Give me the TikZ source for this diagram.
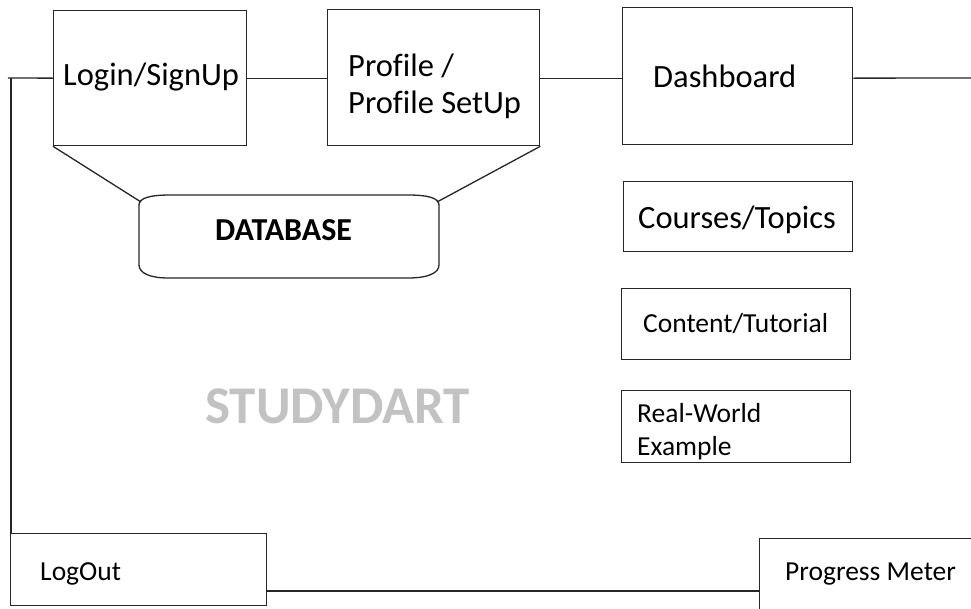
\documentclass[tikz,border=0pt]{standalone}
\usepackage{fontspec}
\setmainfont[Ligatures=NoCommon]{Carlito}
\begin{document}
\begin{tikzpicture}[x=1pt,y=-1pt,
  box/.style={draw=black!85,line width=1.3pt,anchor=north west,inner sep=0pt},
  ln/.style={draw=black!85,line width=1.3pt},
  big/.style={anchor=base west,inner sep=0pt,font=\fontsize{32.5}{37}\selectfont},
  small/.style={anchor=base west,inner sep=0pt,font=\fontsize{27.5}{33}\selectfont,align=left}]
\useasboundingbox (0,0) rectangle (971,608);
\clip (0,0) rectangle (971,608);
\fill[white] (0,0) rectangle (971,608);
% boxes
\node[box,minimum width=193pt,minimum height=135pt] (login) at (53,10) {};
\node[box,minimum width=212pt,minimum height=136pt] (profile) at (327,9) {};
\node[box,minimum width=230pt,minimum height=137pt] (dash) at (622,7) {};
\node[box,minimum width=229pt,minimum height=70pt] (courses) at (623,181) {};
\node[box,minimum width=229pt,minimum height=71pt] (content) at (621,288) {};
\node[box,minimum width=229pt,minimum height=72pt] (real) at (621,390) {};
\node[box,minimum width=256pt,minimum height=72pt] (logout) at (10,533) {};
\node[box,minimum width=240pt,minimum height=90pt] (progress) at (759,538) {};
% database shape
\draw[ln] (139,205) .. controls (139,198) and (150,195) .. (170,195) -- (408,195)
  .. controls (428,195) and (439,198) .. (439,205) -- (439,265)
  .. controls (439,273) and (428,278) .. (408,278) -- (168,278)
  .. controls (150,278) and (139,273) .. (139,265) -- cycle;
\coordinate (dbtl) at (141,202);
\coordinate (dbtr) at (437,202);
% texts
\node[big] (tlogin) at (63,85) {Login/SignUp};
\node[big] (tprofile1) at (348,76) {Profile /};
\node[big] (tprofile2) at (348,113) {Profile SetUp};
\node[big] (tdash) at (653,87) {Dashboard};
\node[big] (tcourses) at (638,228) {Courses/Topics};
\node[small] (tcontent) at (643,332) {Content/Tutorial};
\node[small] (treal1) at (637,422) {Real-World};
\node[small] (treal2) at (637,455) {Example};
\node[small] (tlogout) at (40,580) {LogOut};
\node[small] (tprogress) at (785,580) {Progress Meter};
\node[anchor=base west,inner sep=0pt,font=\fontsize{32}{36}\selectfont\bfseries] (tdb) at (215,240) {DATABASE};
\node[anchor=base west,inner sep=0pt,text=black!24,font=\fontsize{53}{58}\selectfont\bfseries] (tstudy) at (205,423) {STUDYDART};
% connectors
\coordinate (lstart) at (8,78);
\coordinate (lcorner) at (11,78);
\coordinate (rend) at (975,78);
\coordinate (pmline) at (0,591);
\draw[ln] (lstart) -- (login.west);
\draw[ln] (lcorner) -- (lcorner |- logout.north);
\draw[ln] (login.east) -- (profile.west |- login.east);
\draw[ln] (profile.east |- login.east) -- (dash.west |- login.east);
\draw[ln] (dash.east |- login.east) -- (rend);
\draw[ln] (login.south west) -- (dbtl);
\draw[ln] (profile.south east) -- (dbtr);
\draw[ln] (logout.east |- pmline) -- (progress.west |- pmline);
\end{tikzpicture}
\end{document}
